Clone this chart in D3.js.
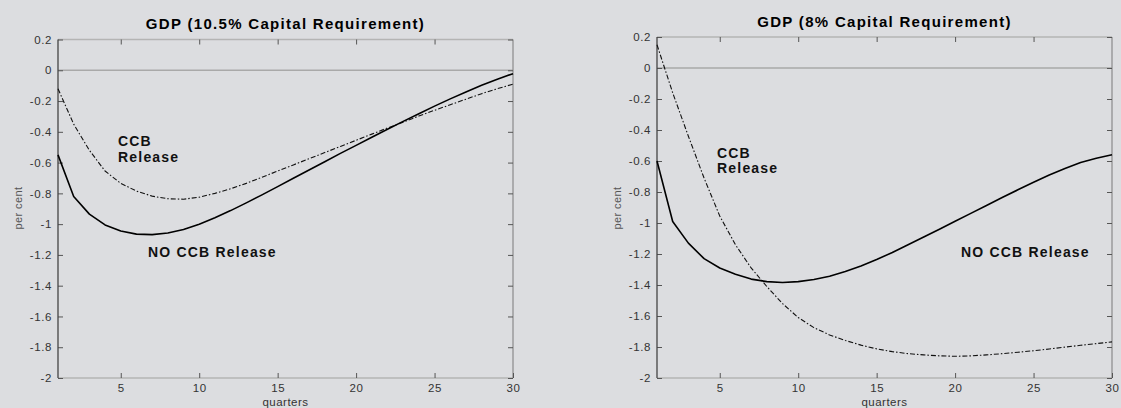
<!DOCTYPE html>
<html><head><meta charset="utf-8">
<script src="https://cdn.jsdelivr.net/npm/d3@7/dist/d3.min.js"></script>
<style>
html,body{margin:0;padding:0;background:#dcdde0;}
svg{display:block;}
text{font-family:"Liberation Sans",Arial,sans-serif;}
</style></head>
<body>
<svg id="c" width="1121" height="408"></svg>
<script>
const quarters = [1,2,3,4,5,6,7,8,9,10,11,12,13,14,15,16,17,18,19,20,21,22,23,24,25,26,27,28,29,30];
const xTicks = [5,10,15,20,25,30];
const yTicks = [0.2,0,-0.2,-0.4,-0.6,-0.8,-1,-1.2,-1.4,-1.6,-1.8,-2];
const titles = ["GDP (10.5% Capital Requirement)", "GDP (8% Capital Requirement)"];

// Left panel: 10.5% capital requirement
const left_noRelease = [-0.55,-0.82,-0.935,-1.005,-1.045,-1.065,-1.068,-1.058,-1.035,-1.0,
  -0.958,-0.912,-0.862,-0.81,-0.756,-0.702,-0.648,-0.594,-0.54,-0.488,
  -0.435,-0.383,-0.332,-0.282,-0.233,-0.186,-0.141,-0.098,-0.058,-0.022];
const left_release = [-0.12,-0.35,-0.52,-0.655,-0.735,-0.785,-0.818,-0.835,-0.838,-0.825,
  -0.80,-0.77,-0.735,-0.695,-0.655,-0.615,-0.575,-0.535,-0.495,-0.455,
  -0.415,-0.375,-0.337,-0.297,-0.26,-0.224,-0.188,-0.152,-0.12,-0.09];
// Right panel: 8% capital requirement
const right_noRelease = [-0.60,-0.99,-1.13,-1.23,-1.29,-1.33,-1.362,-1.378,-1.384,-1.378,
  -1.364,-1.343,-1.313,-1.277,-1.236,-1.19,-1.14,-1.09,-1.04,-0.989,
  -0.938,-0.887,-0.836,-0.786,-0.737,-0.69,-0.648,-0.61,-0.582,-0.56];
const right_release = [0.15,-0.16,-0.44,-0.71,-0.955,-1.14,-1.29,-1.41,-1.52,-1.61,
  -1.675,-1.722,-1.758,-1.788,-1.812,-1.83,-1.843,-1.851,-1.857,-1.86,
  -1.857,-1.851,-1.843,-1.834,-1.824,-1.813,-1.801,-1.789,-1.778,-1.767];

const panels = [
  {x0:58, x1:513, yTop:39.5, yBot:378, title:titles[0], titleY:29, solid:left_noRelease, dash:left_release,
   ccb:[118,146,162], no:[148,257], ylab:18},
  {x0:657, x1:1112, yTop:37, yBot:378, title:titles[1], titleY:27, solid:right_noRelease, dash:right_release,
   ccb:[717,158,173], no:[961,257], ylab:617}
];

const svg = d3.select("#c");
const fmt = d => String(+d.toFixed(1));

panels.forEach(p => {
  const x = d3.scaleLinear().domain([1,30]).range([p.x0,p.x1]);
  const y = d3.scaleLinear().domain([-2,0.2]).range([p.yBot,p.yTop]);
  const g = svg.append("g");

  // zero line
  g.append("line").attr("x1",p.x0).attr("x2",p.x1).attr("y1",y(0)).attr("y2",y(0))
    .attr("stroke","#a9a9a9").attr("stroke-width",1.4);

  // frame
  g.append("line").attr("x1",p.x0).attr("x2",p.x1).attr("y1",p.yTop).attr("y2",p.yTop).attr("stroke","#b4b4b4").attr("stroke-width",1.5);
  g.append("line").attr("x1",p.x0).attr("x2",p.x1).attr("y1",p.yBot).attr("y2",p.yBot).attr("stroke","#b4b4b4").attr("stroke-width",1.5);
  g.append("line").attr("x1",p.x1).attr("x2",p.x1).attr("y1",p.yTop).attr("y2",p.yBot).attr("stroke","#8a8a8a").attr("stroke-width",1.2);

  // axes
  const ax = (sel) => { sel.select(".domain").remove(); sel.selectAll(".tick line").attr("stroke","#555"); };
  g.append("g").attr("transform",`translate(0,${p.yBot})`)
    .call(d3.axisBottom(x).tickValues(xTicks).tickSize(-5).tickPadding(6).tickFormat(d=>d))
    .call(ax).selectAll("text").attr("font-size","11.5px").attr("fill","#333").attr("letter-spacing","0.6px")
    .attr("font-family","Liberation Sans, Arial, sans-serif");
  g.append("g").attr("transform",`translate(0,${p.yTop})`)
    .call(d3.axisTop(x).tickValues(xTicks.slice(0,5)).tickSize(-5).tickFormat(""))
    .call(ax);
  g.append("g").attr("transform",`translate(${p.x0},0)`)
    .call(d3.axisLeft(y).tickValues(yTicks).tickSize(-5).tickPadding(6).tickFormat(fmt))
    .call(ax).selectAll("text").attr("font-size","11.5px").attr("fill","#333").attr("letter-spacing","0.6px")
    .attr("font-family","Liberation Sans, Arial, sans-serif");
  g.append("g").attr("transform",`translate(${p.x1},0)`)
    .call(d3.axisRight(y).tickValues(yTicks).tickSize(-5).tickFormat(""))
    .call(ax);
  g.append("line").attr("x1",p.x0).attr("x2",p.x0).attr("y1",p.yTop).attr("y2",p.yBot).attr("stroke","#444").attr("stroke-width",1.3);

  // lines
  const line = (arr) => d3.line().x((d,i)=>x(quarters[i])).y(d=>y(d))(arr);
  g.append("path").attr("d",line(p.dash)).attr("fill","none").attr("stroke","#111")
    .attr("stroke-width",1.1).attr("stroke-dasharray","5,2,1.5,2");
  g.append("path").attr("d",line(p.solid)).attr("fill","none").attr("stroke","#000")
    .attr("stroke-width",1.6).attr("stroke-linejoin","round");

  // text
  g.append("text").attr("x",(p.x0+p.x1)/2).attr("y",p.titleY).attr("text-anchor","middle")
    .attr("font-size","15px").attr("font-weight","bold").attr("letter-spacing","1.3px").attr("fill","#000").text(p.title);
  g.append("text").attr("x",(p.x0+p.x1)/2).attr("y",406).attr("text-anchor","middle")
    .attr("font-size","11.5px").attr("letter-spacing","0.5px").attr("fill","#333").text("quarters");
  g.append("text").attr("transform",`translate(${p.ylab+4},208) rotate(-90)`).attr("text-anchor","middle")
    .attr("font-size","11px").attr("letter-spacing","0.4px").attr("fill","#555").text("per cent");
  const ann = (tx,ty,s) => g.append("text").attr("x",tx).attr("y",ty).attr("font-size","14px").attr("font-weight","bold")
    .attr("letter-spacing","1.2px").attr("fill","#111").text(s);
  ann(p.ccb[0],p.ccb[1],"CCB");
  ann(p.ccb[0],p.ccb[2],"Release");
  ann(p.no[0],p.no[1],"NO CCB Release");
});
</script>
</body></html>
